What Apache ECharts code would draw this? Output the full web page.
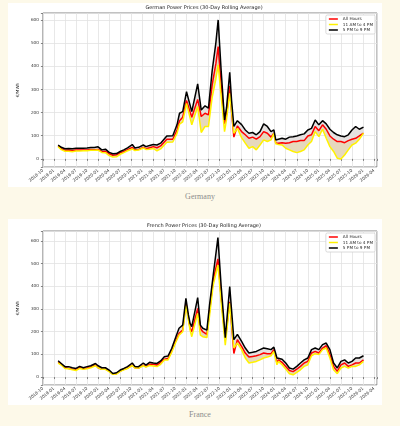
<!DOCTYPE html>
<html>
<head>
<meta charset="utf-8">
<script src="https://cdn.jsdelivr.net/npm/echarts@6/dist/echarts.min.js"></script>
<style>
body { margin: 0; background: #fdf9e9; width: 400px; height: 426px; position: relative; overflow: hidden; }
.panel { position: absolute; left: 8px; width: 374px; background: #fff; }
.cap { position: absolute; left: 0; width: 400px; text-align: center; font-family: 'Liberation Serif', serif; font-size: 8px; color: #8c8c8c; }
</style>
</head>
<body>
<div class="panel" id="de" style="top:3px;height:184px"></div>
<div class="cap" style="top:192px">Germany</div>
<div class="panel" id="fr" style="top:219px;height:186px"></div>
<div class="cap" style="top:410px">France</div>
<script>
var xTickLabels = ['2018-10', '2019-01', '2019-04', '2019-07', '2019-10', '2020-01', '2020-04', '2020-07',
    '2020-10', '2021-01', '2021-04', '2021-07', '2021-10', '2022-01', '2022-04', '2022-07', '2022-10',
    '2023-01', '2023-04', '2023-07', '2023-10', '2024-01', '2024-04', '2024-07', '2024-10', '2025-01',
    '2025-04', '2025-07', '2025-10', '2026-01', '2026-04'];
var seriesNames = ['All Hours', '11 AM to 4 PM', '5 PM to 9 PM'];

// Germany
var deDates = ['2019-02-05', '2019-03-01', '2019-04-01', '2019-05-01', '2019-06-01', '2019-07-01', '2019-08-01', '2019-09-01', '2019-10-01', '2019-11-01', '2019-12-01',
    '2020-01-01', '2020-02-01', '2020-03-01', '2020-04-01', '2020-05-01', '2020-06-01', '2020-07-01', '2020-08-01', '2020-09-01', '2020-10-10', '2020-11-01', '2020-12-01',
    '2021-01-10', '2021-02-01', '2021-03-01', '2021-04-01', '2021-05-01', '2021-06-01', '2021-07-22', '2021-09-10', '2021-10-15', '2021-11-05', '2021-12-01',
    '2022-01-02', '2022-02-14', '2022-04-03', '2022-05-02', '2022-06-03', '2022-07-01', '2022-08-01', '2022-09-01', '2022-09-20', '2022-10-15', '2022-11-12', '2022-11-28', '2022-12-25',
    '2023-01-10', '2023-01-29', '2023-02-25', '2023-04-01', '2023-05-01', '2023-06-01', '2023-07-01', '2023-08-01', '2023-09-01', '2023-10-01', '2023-11-01', '2023-12-01', '2023-12-25',
    '2024-01-10', '2024-02-01', '2024-03-01', '2024-04-01', '2024-05-01', '2024-06-01', '2024-07-01', '2024-08-01', '2024-09-01', '2024-10-01', '2024-11-01', '2024-12-01',
    '2025-01-01', '2025-02-01', '2025-03-01', '2025-04-01', '2025-05-01', '2025-06-01', '2025-07-01', '2025-08-01', '2025-09-01', '2025-10-01', '2025-11-01', '2025-12-01', '2026-01-05'];
var deAll = [56, 44, 37, 38, 36, 38, 38, 38, 38, 41, 40,
    41, 32, 33, 22, 16, 18, 26, 32, 40, 49, 39, 41,
    50, 44, 48, 53, 48, 56, 85, 85, 125, 165, 180,
    252, 180, 257, 183, 197, 190, 320, 410, 485, 320, 152, 190, 315,
    200, 94, 142, 118, 104, 89, 94, 85, 96, 118, 111, 94, 111,
    68, 68, 70, 68, 70, 75, 75, 79, 79, 99, 104, 140,
    122, 147, 128, 99, 85, 75, 75, 70, 79, 85, 89, 99, 111];
var deMidday = [53, 40, 33, 33, 31, 34, 34, 35, 35, 37, 37,
    38, 28, 27, 14, 8, 9, 20, 27, 35, 43, 36, 38,
    47, 41, 42, 45, 35, 43, 72, 73, 110, 150, 160,
    240, 147, 226, 114, 140, 140, 265, 345, 406, 270, 118, 170, 283,
    205, 111, 132, 92, 68, 46, 53, 39, 60, 82, 75, 82, 111,
    65, 62, 60, 46, 39, 32, 27, 32, 39, 60, 75, 118,
    96, 128, 89, 53, 32, 3, 0, 17, 39, 60, 68, 85, 111];
var deEvening = [60, 50, 44, 45, 44, 46, 46, 46, 47, 49, 49,
    52, 39, 42, 28, 22, 23, 32, 39, 48, 62, 47, 50,
    60, 53, 58, 62, 60, 68, 99, 100, 147, 197, 204,
    290, 204, 324, 211, 229, 219, 380, 500, 600, 380, 168, 220, 374,
    250, 140, 165, 148, 125, 111, 114, 104, 118, 151, 140, 118, 125,
    82, 85, 89, 85, 94, 96, 99, 104, 108, 125, 132, 168,
    147, 165, 151, 128, 114, 104, 99, 96, 104, 125, 140, 128, 137];

// France
var frDates = ['2019-02-05', '2019-03-01', '2019-04-01', '2019-05-01', '2019-06-01', '2019-07-01', '2019-08-01', '2019-09-01', '2019-10-01', '2019-11-01', '2019-12-10',
    '2020-01-01', '2020-02-01', '2020-03-01', '2020-04-01', '2020-05-01', '2020-06-01', '2020-07-01', '2020-08-01', '2020-09-01', '2020-10-10', '2020-11-01', '2020-12-01',
    '2021-01-10', '2021-02-01', '2021-03-01', '2021-04-01', '2021-05-01', '2021-06-01', '2021-07-01', '2021-08-01', '2021-09-01', '2021-10-01', '2021-11-01', '2021-12-01', '2021-12-28',
    '2022-01-18', '2022-02-01', '2022-02-14', '2022-04-03', '2022-04-25', '2022-05-15', '2022-06-18', '2022-07-10', '2022-08-10', '2022-09-18', '2022-10-15', '2022-11-18', '2022-12-25',
    '2023-01-29', '2023-02-25', '2023-04-01', '2023-05-01', '2023-06-01', '2023-07-01', '2023-08-01', '2023-09-01', '2023-10-01', '2023-11-01', '2023-12-01', '2023-12-25',
    '2024-01-20', '2024-02-01', '2024-03-01', '2024-04-01', '2024-05-01', '2024-06-01', '2024-07-01', '2024-08-01', '2024-09-01', '2024-10-01', '2024-11-01', '2024-12-01',
    '2025-01-01', '2025-02-01', '2025-03-01', '2025-04-01', '2025-05-01', '2025-06-01', '2025-07-01', '2025-08-01', '2025-09-01', '2025-10-01', '2025-11-01', '2025-12-01', '2026-01-05'];
var frAll = [65, 56, 41, 38, 35, 32, 41, 37, 40, 44, 53,
    41, 34, 35, 26, 13, 15, 26, 34, 40, 53, 41, 40,
    53, 46, 56, 56, 53, 65, 79, 82, 115, 156, 193, 207, 325,
    262, 215, 200, 303, 215, 200, 188, 290, 428, 521, 350, 163, 332,
    104, 165, 135, 106, 88, 91, 94, 99, 106, 103, 103, 121,
    62, 76, 65, 47, 29, 24, 35, 47, 62, 69, 106, 113,
    106, 128, 138, 99, 47, 25, 54, 62, 47, 54, 62, 62, 76];
var frMidday = [62, 53, 38, 37, 32, 29, 38, 34, 37, 41, 50,
    41, 34, 34, 24, 12, 13, 25, 32, 38, 51, 40, 40,
    50, 44, 51, 49, 46, 56, 75, 75, 109, 149, 185, 200, 315,
    251, 207, 178, 281, 185, 178, 174, 270, 406, 494, 330, 141, 325,
    128, 150, 121, 84, 62, 65, 69, 76, 84, 88, 94, 113,
    54, 69, 54, 35, 15, 10, 21, 32, 47, 54, 94, 103,
    99, 121, 128, 84, 32, 15, 40, 47, 40, 47, 47, 54, 69];
var frEvening = [72, 60, 46, 46, 41, 38, 47, 41, 46, 50, 60,
    50, 41, 41, 31, 16, 19, 31, 38, 46, 62, 47, 46,
    62, 53, 65, 62, 60, 71, 90, 93, 126, 171, 215, 229, 347,
    274, 237, 222, 350, 229, 215, 207, 318, 450, 615, 400, 174, 399,
    165, 188, 157, 128, 106, 109, 113, 121, 128, 125, 121, 132,
    84, 91, 79, 62, 40, 35, 47, 62, 76, 84, 121, 128,
    121, 143, 150, 121, 62, 40, 69, 76, 62, 69, 84, 84, 94];

// months counted from 2018-10-01
function toMonths(d) {
    var p = d.split('-');
    var y = +p[0], m = +p[1], day = +p[2];
    var dim = new Date(y, m, 0).getDate();
    return (y - 2018) * 12 + (m - 10) + (day - 1) / dim;
}

function pairs(xs, vals) {
    return xs.map(function (x, i) { return [x, vals[i]]; });
}

// filled area between two lines
function band(xs, lo, hi, color) {
    return {
        type: 'custom',
        silent: true,
        z: 1,
        data: [[xs[0], lo[0]]],
        renderItem: function (params, api) {
            var pts = [];
            for (var i = 0; i < xs.length; i++) pts.push(api.coord([xs[i], hi[i]]));
            for (var j = xs.length - 1; j >= 0; j--) pts.push(api.coord([xs[j], lo[j]]));
            return { type: 'polygon', shape: { points: pts }, style: { fill: color } };
        }
    };
}

function line(name, xs, vals, color) {
    return {
        type: 'line',
        name: name,
        data: pairs(xs, vals),
        showSymbol: false,
        symbol: 'none',
        color: color,
        lineStyle: { width: 1.5, color: color },
        z: 3
    };
}

function drawChart(id, title, dates, allH, mid, eve, yMax, gridTop) {
    var chart = echarts.init(document.getElementById(id));
    var xs = dates.map(toMonths);
    var option = {
        animation: false,
        textStyle: { fontFamily: 'DejaVu Sans' },
        graphic: [{
            type: 'text',
            x: 196,
            y: gridTop - 5,
            style: { text: title, fill: '#222', font: '5px "DejaVu Sans"', textAlign: 'center', textVerticalAlign: 'middle' }
        }],
        legend: {
            data: seriesNames,
            orient: 'vertical',
            right: 7,
            top: gridTop + 2,
            icon: 'rect',
            itemWidth: 9,
            itemHeight: 1.5,
            itemGap: 1.5,
            padding: [2, 2, 2, 3],
            backgroundColor: '#fff',
            borderColor: '#d0d0d0',
            borderWidth: 0.8,
            borderRadius: 1.5,
            textStyle: { fontSize: 4.2, color: '#222', fontFamily: 'DejaVu Sans' }
        },
        grid: { left: 23, right: 5, top: gridTop, bottom: 20, show: true, borderColor: '#666', borderWidth: 0.8 },
        xAxis: {
            type: 'value',
            min: 0,
            max: 90.8,
            interval: 3,
            axisLine: { show: false },
            axisTick: { length: 2, lineStyle: { color: '#666', width: 0.8 } },
            axisLabel: {
                rotate: 40,
                fontSize: 4.2,
                color: '#333',
                margin: 3,
                formatter: function (v) { return v % 3 === 0 ? xTickLabels[v / 3] : ''; }
            },
            splitLine: { lineStyle: { color: '#e2e2e2', width: 0.8 } }
        },
        yAxis: {
            type: 'value',
            min: -35,
            max: yMax,
            splitNumber: 7,
            minInterval: 100,
            maxInterval: 100,
            name: '€/MWh',
            nameLocation: 'middle',
            nameGap: 18,
            nameTextStyle: { fontSize: 4.2, color: '#222' },
            axisLine: { show: false },
            axisTick: { show: true, length: 2, lineStyle: { color: '#666', width: 0.8 } },
            axisLabel: {
                fontSize: 4.2,
                color: '#333',
                margin: 4,
                formatter: function (v) { return v % 100 === 0 ? v : ''; }
            },
            splitLine: { lineStyle: { color: '#e2e2e2', width: 0.8 } }
        },
        series: [
            band(xs, allH, eve, '#e5e1e0'),
            band(xs, mid, allH, '#e6d8bd'),
            line(seriesNames[0], xs, allH, '#ff0000'),
            line(seriesNames[1], xs, mid, '#fff200'),
            line(seriesNames[2], xs, eve, '#000000')
        ]
    };
    chart.setOption(option);
}

drawChart('de', 'German Power Prices (30-Day Rolling Average)', deDates, deAll, deMidday, deEvening, 630, 10);
drawChart('fr', 'French Power Prices (30-Day Rolling Average)', frDates, frAll, frMidday, frEvening, 644, 12);
</script>
</body>
</html>
